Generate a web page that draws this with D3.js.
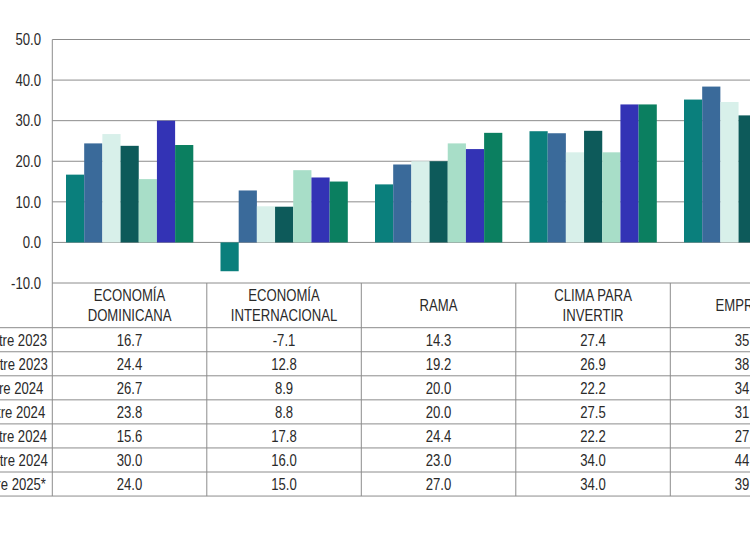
<!DOCTYPE html>
<html>
<head>
<meta charset="utf-8">
<script src="https://cdn.jsdelivr.net/npm/d3@7"></script>
<style>
  html, body { margin: 0; padding: 0; background: #fff; overflow: hidden; }
  svg { display: block; }
  text { font-family: "Liberation Sans", Arial, sans-serif; font-size: 16px; fill: #2a2a2a; }
</style>
</head>
<body>
<svg id="chart" width="750" height="536"></svg>
<script>
// ---- data ----
const categories = [
  ["ECONOMÍA", "DOMINICANA"],
  ["ECONOMÍA", "INTERNACIONAL"],
  ["RAMA"],
  ["CLIMA PARA", "INVERTIR"],
  ["EMPRESA"]
];
const seriesNames = [
  "III Trimestre 2023",
  "IV Trimestre 2023",
  "I Trimestre 2024",
  "II Trimestre 2024",
  "III Trimestre 2024",
  "IV Trimestre 2024",
  "I Trimestre 2025*"
];
// values per series (row), one per category
const s1 = [16.7, -7.1, 14.3, 27.4, 35.2];
const s2 = [24.4, 12.8, 19.2, 26.9, 38.4];
const s3 = [26.7, 8.9, 20.0, 22.2, 34.6];
const s4 = [23.8, 8.8, 20.0, 27.5, 31.3];
const s5 = [15.6, 17.8, 24.4, 22.2, 27.5];
const s6 = [30.0, 16.0, 23.0, 34.0, 44.0];
const s7 = [24.0, 15.0, 27.0, 34.0, 39.0];
const seriesValues = [s1, s2, s3, s4, s5, s6, s7];
const yTicks = [-10, 0, 10, 20, 30, 40, 50];
const colors = ["#0a7f7c", "#3a6a9a", "#d8f0ea", "#0d5a5a", "#a8dec8", "#3333b5", "#0b7f60"];

// ---- layout ----
const svg = d3.select("#chart");
const left = 52.3, colW = 154.5;
const yTop = 39.5, yBottom = 283;
const headerH = 44.7, rowH = 24.05;
const tableBottom = yBottom + headerH + rowH * seriesNames.length;
const SX = 0.82; // narrow text

const x0 = d3.scaleBand()
  .domain(d3.range(categories.length))
  .range([left, left + colW * categories.length])
  .paddingInner(0).paddingOuter(0);
const x1 = d3.scaleBand()
  .domain(d3.range(seriesNames.length))
  .range([13.7, colW - 13.5])
  .padding(0);
const y = d3.scaleLinear().domain([-10, 50]).range([yBottom, yTop]);

const lineColor = "#8c8c8c";
const chartRight = left + colW * categories.length;
const fmt = v => d3.format(".1f")(v).replace("\u2212", "-");

function label(parent, x, yy, txt, anchor) {
  return parent.append("text")
    .attr("transform", `translate(${x},${yy}) scale(${SX},1)`)
    .attr("dy", "0.36em")
    .attr("text-anchor", anchor || "middle")
    .text(txt);
}

// gridlines
svg.append("g").selectAll("line")
  .data(yTicks.filter(d => d > -10))
  .join("line")
  .attr("x1", left).attr("x2", chartRight)
  .attr("y1", d => y(d)).attr("y2", d => y(d))
  .attr("stroke", lineColor).attr("stroke-width", 1);

// y-axis tick labels
const ya = svg.append("g");
yTicks.forEach(t => label(ya, 41, y(t), fmt(t), "end"));

// bars
const groups = svg.append("g").selectAll("g")
  .data(categories.map((c, i) => i))
  .join("g")
  .attr("transform", i => `translate(${x0(i)},0)`);
groups.selectAll("rect")
  .data(i => seriesValues.map((s, k) => ({k, v: s[i]})))
  .join("rect")
  .attr("x", d => x1(d.k))
  .attr("width", x1.bandwidth())
  .attr("y", d => y(Math.max(0, d.v)))
  .attr("height", d => Math.abs(y(d.v) - y(0)))
  .attr("fill", d => colors[d.k]);

// frame left line
svg.append("line")
  .attr("x1", left).attr("x2", left).attr("y1", yTop).attr("y2", tableBottom)
  .attr("stroke", lineColor);

// table lines
const table = svg.append("g");
table.append("line").attr("x1", left).attr("x2", chartRight)
  .attr("y1", yBottom).attr("y2", yBottom).attr("stroke", lineColor);
for (let r = 0; r <= seriesNames.length; r++) {
  const yy = yBottom + headerH + r * rowH;
  table.append("line").attr("x1", -10).attr("x2", chartRight)
    .attr("y1", yy).attr("y2", yy).attr("stroke", lineColor);
}
table.selectAll("line.col")
  .data(d3.range(1, categories.length + 1))
  .join("line").attr("class", "col")
  .attr("x1", i => left + colW * i).attr("x2", i => left + colW * i)
  .attr("y1", yBottom).attr("y2", tableBottom)
  .attr("stroke", lineColor);

// headers
categories.forEach((lines, i) => {
  const cx = x0(i) + colW / 2;
  const cy = yBottom + headerH / 2;
  lines.forEach((ln, j) => {
    label(table, cx, cy + (j - (lines.length - 1) / 2) * 20, ln, "middle");
  });
});

// row labels and values
seriesNames.forEach((name, r) => {
  const cy = yBottom + headerH + r * rowH + rowH / 2;
  label(table, -4, cy, name, "middle");
  seriesValues[r].forEach((v, i) => {
    label(table, x0(i) + colW / 2, cy, fmt(v), "middle");
  });
});
</script>
</body>
</html>
